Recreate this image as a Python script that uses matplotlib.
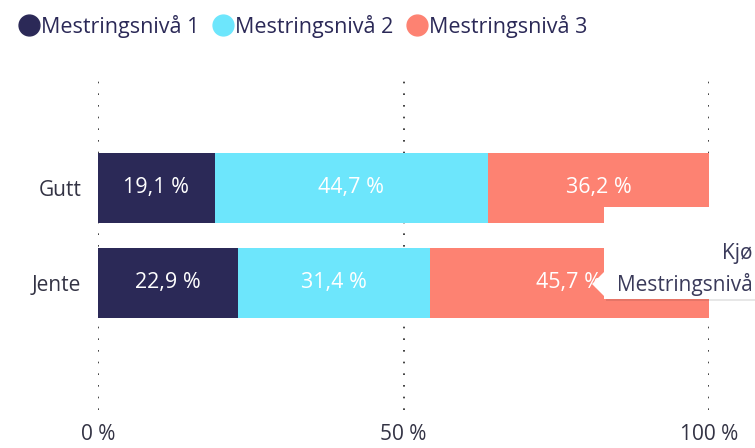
import matplotlib.pyplot as plt
from matplotlib.lines import Line2D
from matplotlib.patches import FancyBboxPatch, Polygon

plt.rcParams['font.family'] = ['Open Sans', 'DejaVu Sans']

kategorier = ['Gutt', 'Jente']
niva1 = [19.1, 22.9]
niva2 = [44.7, 31.4]
niva3 = [36.2, 45.7]
serier = ['Mestringsnivå 1', 'Mestringsnivå 2', 'Mestringsnivå 3']
farger = ['#2B2957', '#6DE6FC', '#FD8272']
x_ticks = [0, 50, 100]
x_ticklabels = ['0 %', '50 %', '100 %']

W, H = 755, 448
fig = plt.figure(figsize=(W / 100, H / 100), dpi=100)
# axes: 0% at x=98, 100% at x=709, top y=75, bottom y=410 (pixels)
ax = fig.add_axes([98 / W, 1 - 410 / H, (709 - 98) / W, (410 - 75) / H])

y = list(range(len(kategorier)))
venstre = [0] * len(kategorier)
for verdier, navn, farge in zip([niva1, niva2, niva3], serier, farger):
    ax.barh(y, verdier, left=venstre, height=0.74, color=farge, label=navn, zorder=2)
    for yi, v, l in zip(y, verdier, venstre):
        ax.text(l + v / 2, yi, f'{v:.1f} %'.replace('.', ','), ha='center', va='center',
                color='white', fontsize=15.5, zorder=3)
    venstre = [a + b for a, b in zip(venstre, verdier)]

ax.set_xlim(0, 100)
ax.set_ylim(2.34, -1.19)
ax.set_yticks(y)
ax.set_yticklabels(kategorier, fontsize=15, color='#333344')
ax.set_xticks(x_ticks)
ax.set_xticklabels(x_ticklabels, fontsize=15, color='#333344')
ax.tick_params(length=0, pad=12)
ax.tick_params(axis='x', pad=10)
for s in ax.spines.values():
    s.set_visible(False)
for t in x_ticks:
    ax.axvline(t, color='#222222', linestyle=(0, (1, 6)), linewidth=1.2, zorder=1)

handles = [Line2D([], [], marker='o', linestyle='', markersize=15, color=f) for f in farger]
fig.legend(handles, serier, loc='upper left', bbox_to_anchor=(12 / W, 1 - 6 / H), ncol=3,
           frameon=False, fontsize=15.5, handlelength=0.8, handletextpad=0.15,
           columnspacing=0.7, labelcolor='#2B2957', borderaxespad=0)

# tooltip partially visible on the right
skygge = FancyBboxPatch((606 / W, 1 - 301 / H), 160 / W, 92 / H, boxstyle='square,pad=0',
                        transform=fig.transFigure, facecolor='#00000018', edgecolor='none', zorder=4)
boks = FancyBboxPatch((604 / W, 1 - 299 / H), 160 / W, 92 / H, boxstyle='square,pad=0',
                      transform=fig.transFigure, facecolor='white', edgecolor='none', zorder=5)
pil = Polygon([(604 / W, 1 - 272 / H), (592 / W, 1 - 284 / H), (604 / W, 1 - 296 / H)],
              closed=True, transform=fig.transFigure, facecolor='white', edgecolor='none', zorder=5)
fig.add_artist(skygge)
fig.add_artist(boks)
fig.add_artist(pil)
fig.text(753 / W, 1 - 253 / H, 'Kjø', fontsize=15, color='#3A3A5A', va='center', ha='right', zorder=6)
fig.text(753 / W, 1 - 284 / H, 'Mestringsnivå', fontsize=15, color='#3A3A5A', va='center', ha='right', zorder=6)

fig.savefig('out.png', dpi=100)
